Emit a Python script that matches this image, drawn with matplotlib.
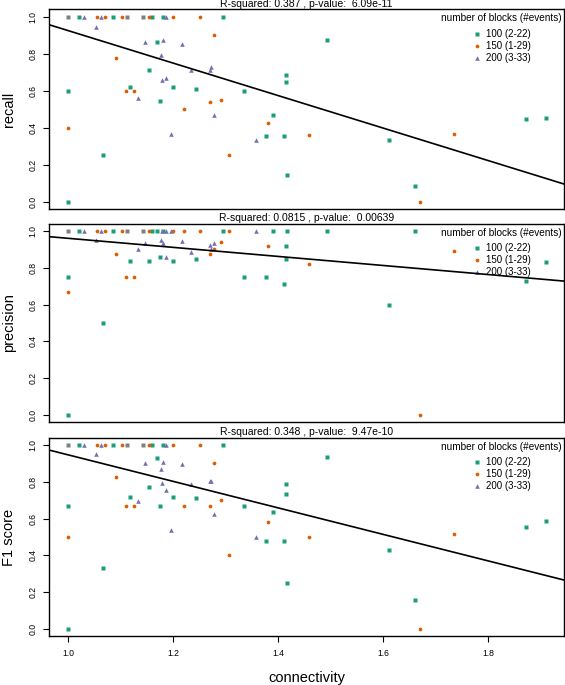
import numpy as np
import matplotlib
matplotlib.use("Agg")
from matplotlib import pyplot as plt

plt.rcParams['font.family'] = ['Liberation Sans', 'DejaVu Sans']

# connectivity and scores of the models, one set of lists per block size
conn_100 = [1.000, 1.000, 1.021, 1.067, 1.086, 1.118, 1.154, 1.159, 1.169, 1.175,
            1.180, 1.200, 1.243, 1.294, 1.334, 1.376, 1.390, 1.410, 1.414, 1.414,
            1.417, 1.492, 1.610, 1.660, 1.872, 1.909]
recall_100 = [0.60, 0.0, 1.0, 0.25, 1.0, 0.622, 0.714, 1.0, 0.865, 0.546,
              1.0, 0.622, 0.609, 1.0, 0.598, 0.353, 0.467, 0.357, 0.687, 0.645,
              0.144, 0.872, 0.334, 0.087, 0.445, 0.454]
precision_100 = [0.75, 0.0, 1.0, 0.5, 1.0, 0.835, 0.835, 1.0, 1.0, 0.860,
                 1.0, 0.835, 0.848, 1.0, 0.75, 0.75, 1.0, 0.714, 0.918, 0.846,
                 1.0, 1.0, 0.598, 1.0, 0.728, 0.833]
f1_100 = [0.667, 0.0, 1.0, 0.333, 1.0, 0.716, 0.772, 1.0, 0.931, 0.668,
          1.0, 0.716, 0.712, 1.0, 0.668, 0.480, 0.637, 0.477, 0.788, 0.734,
          0.25, 0.936, 0.429, 0.156, 0.553, 0.589]

conn_150 = [1.000, 1.055, 1.070, 1.090, 1.103, 1.110, 1.125, 1.154, 1.200, 1.220,
            1.250, 1.269, 1.278, 1.290, 1.306, 1.380, 1.458, 1.669, 1.734]
recall_150 = [0.40, 1.0, 1.0, 0.777, 1.0, 0.60, 0.60, 1.0, 1.0, 0.50,
              1.0, 0.537, 0.899, 0.551, 0.251, 0.424, 0.359, 0.0, 0.364]
precision_150 = [0.667, 1.0, 1.0, 0.875, 1.0, 0.75, 0.75, 1.0, 1.0, 1.0,
                 1.0, 0.873, 0.900, 0.942, 1.0, 0.918, 0.819, 0.0, 0.890]
f1_150 = [0.50, 1.0, 1.0, 0.826, 1.0, 0.667, 0.667, 1.0, 1.0, 0.667,
          1.0, 0.668, 0.902, 0.699, 0.402, 0.580, 0.50, 0.0, 0.518]

conn_200 = [1.030, 1.053, 1.062, 1.133, 1.147, 1.177, 1.178, 1.180, 1.187, 1.187,
            1.195, 1.216, 1.233, 1.270, 1.272, 1.278, 1.357]
recall_200 = [1.0, 0.946, 1.0, 0.562, 0.865, 0.793, 0.658, 0.874, 0.667, 1.0,
              0.368, 0.852, 0.714, 0.714, 0.727, 0.467, 0.334]
precision_200 = [1.0, 0.951, 1.0, 0.904, 0.933, 0.951, 1.0, 0.933, 0.860, 1.0,
                 1.0, 0.946, 0.886, 0.926, 0.904, 0.937, 1.0]
f1_200 = [1.0, 0.953, 1.0, 0.697, 0.902, 0.868, 0.794, 0.908, 0.757, 1.0,
          0.536, 0.899, 0.790, 0.806, 0.806, 0.623, 0.50]

# models of all block sizes that sit on the same spot (drawn grey)
conn_tied = [1.000, 1.111, 1.143]
score_tied = [1.0, 1.0, 1.0]

metric_names = ["recall", "precision", "F1 score"]
r_squared = ["0.387", "0.0815", "0.348"]
p_values = ["6.09e-11", "0.00639", "9.47e-10"]
fit_intercept = [1.8025, 1.206, 1.666]
fit_slope = [-0.878, -0.246, -0.720]

legend_title = "number of blocks (#events)"
legend_labels = ["100 (2-22)", "150 (1-29)", "200 (3-33)"]
x_ticks = [1.0, 1.2, 1.4, 1.6, 1.8]
y_ticks = [0.0, 0.2, 0.4, 0.6, 0.8, 1.0]

colors = ["#1B9E77", "#D95F02", "#7570B3"]
markers = ["s", "o", "^"]
msizes = [2.5, 2.7, 3.3]

conns = [conn_100, conn_150, conn_200]
scores = [[recall_100, recall_150, recall_200],
          [precision_100, precision_150, precision_200],
          [f1_100, f1_150, f1_200]]

W, H = 565.0, 685.0
fig = plt.figure(figsize=(5.65, 6.85), dpi=100)

# panel boxes in pixels: (top, bottom)
boxes = [(9.3, 209.1), (223.6, 422.4), (437.6, 636.4)]
left, right = 49.0, 564.0

for i in range(3):
    top, bottom = boxes[i]
    ax = fig.add_axes([left / W, 1 - bottom / H, (right - left) / W, (bottom - top) / H])
    ax.set_xlim(0.9632, 1.9442)
    ax.set_ylim(-0.04, 1.04)

    ax.plot(conn_tied, score_tied, ls='none', marker='s', ms=msizes[0],
            color='#808080', mec='none', zorder=2)
    for g in range(3):
        ax.plot(conns[g], scores[i][g], ls='none', marker=markers[g], ms=msizes[g],
                color=colors[g], mec='none', zorder=2)

    ax.axline((0, fit_intercept[i]), slope=fit_slope[i], color='black', lw=1.2, zorder=3)

    ax.set_title("R-squared: {} , p-value:  {}".format(r_squared[i], p_values[i]),
                 fontsize=7.5, pad=2)

    ax.set_yticks(y_ticks)
    ax.set_yticklabels(["{:.1f}".format(v) for v in y_ticks])
    ax.tick_params(axis='y', direction='out', length=4.3, width=0.8, labelsize=6.2,
                   pad=4, labelrotation=90)
    for lab in ax.get_yticklabels():
        lab.set_va('center')

    if i == 2:
        ax.set_xticks(x_ticks)
        ax.set_xticklabels(["{:.1f}".format(v) for v in x_ticks])
        ax.tick_params(axis='x', direction='out', length=4.3, width=0.8, labelsize=6.2, pad=5)
        ax.set_xlabel("connectivity", fontsize=10.5)
        ax.xaxis.set_label_coords(0.5, -0.172)
    else:
        ax.set_xticks([])

    ax.set_ylabel(metric_names[i], fontsize=10.5)
    ax.yaxis.set_label_coords(-0.064, 0.5)

    for s in ax.spines.values():
        s.set_linewidth(1.0)

    # legend, laid out like the R one
    ax.text(0.9955, 0.954, legend_title, transform=ax.transAxes, ha='right', va='center',
            fontsize=7.2)
    rows = [0.876, 0.816, 0.756]
    for g in range(3):
        ax.plot([0.8305], [rows[g]], transform=ax.transAxes, ls='none', marker=markers[g],
                ms=msizes[g], color=colors[g], mec='none', clip_on=False)
        ax.text(0.848, rows[g], legend_labels[g], transform=ax.transAxes, ha='left',
                va='center', fontsize=7.0)

plt.savefig('out.png', dpi=100)
plt.close()
